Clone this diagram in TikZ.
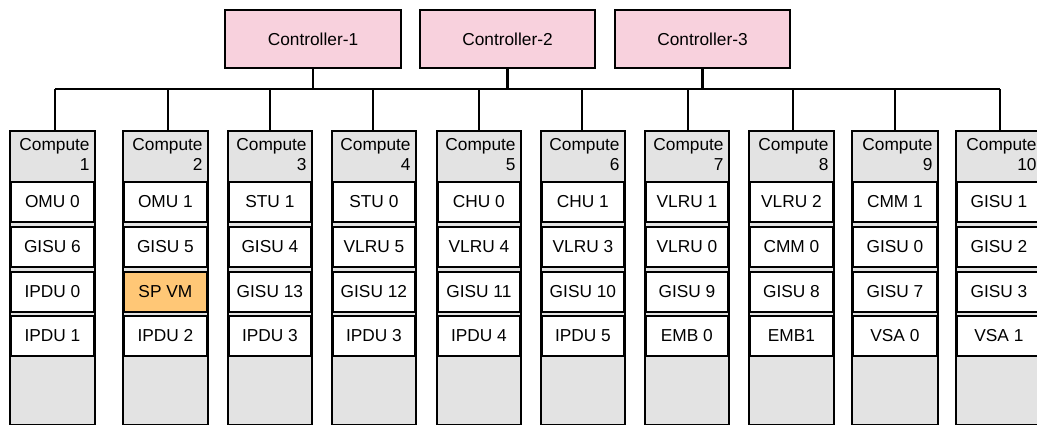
\documentclass[tikz,border=0pt]{standalone}
\usepackage{fontspec}
\setmainfont{Liberation Sans}
\usetikzlibrary{calc}
\definecolor{ctrlpink}{HTML}{F8D1DD}
\definecolor{hostgray}{HTML}{E3E3E3}
\definecolor{spvm}{HTML}{FFC776}
\tikzset{
  lbl/.style={font=\fontsize{17.3}{20.5}\selectfont},
  ctrl/.style={lbl, draw, line width=2pt, fill=ctrlpink, inner sep=0pt,
    minimum width=176pt, minimum height=58pt, anchor=north west},
  host/.style={draw, line width=1.8pt, fill=hostgray, inner sep=0pt,
    minimum height=294pt, anchor=north west},
  hosttitle/.style={lbl, align=right, inner sep=0pt, anchor=north east},
  unit/.style={lbl, draw, line width=1.5pt, fill=white, inner sep=0pt,
    minimum height=40pt},
  spunit/.style={unit, fill=spvm},
  link/.style={line width=2.4pt}
}
\begin{document}
\begin{tikzpicture}[x=1pt,y=-1pt]
\clip (0,0) rectangle (1037,424);
\fill[white] (0,0) rectangle (1037,424);

% controllers
\node[ctrl] (c1) at (224,9) {Controller-1};
\node[ctrl, minimum width=175pt] (c2) at (419,9) {Controller-2};
\node[ctrl, minimum width=175pt] (c3) at (614,9) {Controller-3};

% shared bus
\coordinate (busL) at (55,89);
\coordinate (busR) at (1000,89);
\draw[link] (busL) -- (busR);
\foreach \c in {1,2,3}
  \draw[link] (c\c.south) -- (c\c.south |- busL);

% compute hosts: index / left edge / width / drop x
\foreach \i/\xl/\w/\dx in {1/9/85/55, 2/122/85/168, 3/227/84/270, 4/331/84/373,
    5/436/84/479, 6/540/84/582, 7/644/84/688, 8/748/85/793, 9/851/86/895,
    10/955/86/1000} {
  \node[host, minimum width=\w pt] (h\i) at (\xl,130) {};
  \coordinate (drop\i) at (\dx,89);
  \draw[link] (drop\i) -- (drop\i |- h\i.north);
  \node[hosttitle] (t\i) at ($(h\i.north east)+(-6,8)$) {Compute\\\i};
}

% units inside each host
\foreach \i/\a/\b/\c/\d in {1/OMU 0/GISU 6/IPDU 0/IPDU 1,
    2/OMU 1/GISU 5/SP VM/IPDU 2,
    3/STU 1/GISU 4/GISU 13/IPDU 3,
    4/STU 0/VLRU 5/GISU 12/IPDU 3,
    5/CHU 0/VLRU 4/GISU 11/IPDU 4,
    6/CHU 1/VLRU 3/GISU 10/IPDU 5,
    7/VLRU 1/VLRU 0/GISU 9/EMB 0,
    8/VLRU 2/CMM 0/GISU 8/EMB1,
    9/CMM 1/GISU 0/GISU 7/VSA 0,
    10/GISU 1/GISU 2/GISU 3/VSA 1} {
  \path let \p1 = (h\i.west), \p2 = (h\i.east), \n1 = {\x2-\x1-4pt} in
    node[unit, minimum width=\n1] (u\i-1) at ($(h\i.north)+(0,72)$) {\a}
    node[unit, minimum width=\n1] (u\i-2) at ($(h\i.north)+(0,117)$) {\b}
    node[unit, minimum width=\n1] (u\i-4) at ($(h\i.north)+(0,206)$) {\d};
  \ifnum\i=2
    \path let \p1 = (h\i.west), \p2 = (h\i.east), \n1 = {\x2-\x1-4pt} in
      node[spunit, minimum width=\n1] (u\i-3) at ($(h\i.north)+(0,162)$) {\c};
  \else
    \path let \p1 = (h\i.west), \p2 = (h\i.east), \n1 = {\x2-\x1-4pt} in
      node[unit, minimum width=\n1] (u\i-3) at ($(h\i.north)+(0,162)$) {\c};
  \fi
}
\end{tikzpicture}
\end{document}
